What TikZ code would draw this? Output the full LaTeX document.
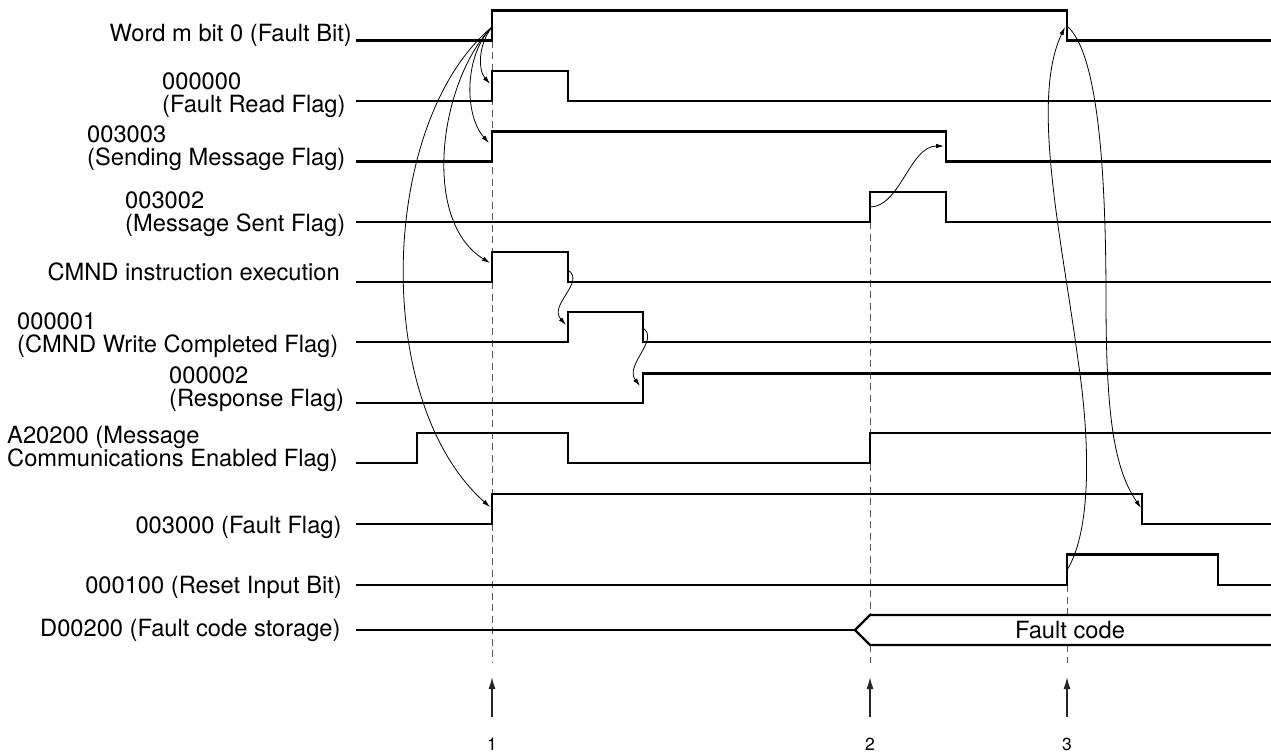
\documentclass[tikz,border=0pt]{standalone}
\usepackage{fontspec}
\setmainfont{TeX Gyre Heros}
\usetikzlibrary{arrows.meta}
\begin{document}
\begin{tikzpicture}[x=1pt,y=-1pt,
  sig/.style={line width=2.3pt, line join=miter, line cap=butt},
  cause/.style={line width=0.8pt, -{Latex[length=8pt,width=4.5pt]}},
  guide/.style={line width=0.9pt, black!65, dash pattern=on 7pt off 4.5pt},
  tickarrow/.style={line width=1.3pt, black!85, -{Latex[length=12pt,width=7pt]}},
  lbl/.style={inner sep=0pt, font=\fontsize{23.7}{23.3}\selectfont},
  num/.style={inner sep=0pt, font=\fontsize{17.5}{17.5}\selectfont}
]
\useasboundingbox (0,0) rectangle (1271,753);

% labels
\node[lbl, anchor=base east] (l1) at (352,41) {Word m bit 0 (Fault Bit)};
\node[lbl, anchor=base west, align=left] (l2) at (162,112.3) {000000\\(Fault Read Flag)};
\node[lbl, anchor=base west, align=left] (l3) at (87,165.5) {003003\\(Sending Message Flag)};
\node[lbl, anchor=base west, align=left] (l4) at (125,231.7) {003002\\(Message Sent Flag)};
\node[lbl, anchor=base east] (l5) at (340,280.7) {CMND instruction execution};
\node[lbl, anchor=base west, align=left] (l6) at (17,352.7) {000001\\(CMND Write Completed Flag)};
\node[lbl, anchor=base west, align=left] (l7) at (169,406.7) {000002\\(Response Flag)};
\node[lbl, anchor=base west, align=left] (l8) at (7,466.7) {A20200 (Message\\Communications Enabled Flag)};
\node[lbl, anchor=base east] (l9) at (341.7,533.3) {003000 (Fault Flag)};
\node[lbl, anchor=base east] (l10) at (342,593.3) {000100 (Reset Input Bit)};
\node[lbl, anchor=base east] (l11) at (340.7,636) {D00200 (Fault code storage)};

% guides
\draw[guide] (492,40.5) -- (492,663);
\draw[guide] (870,222) -- (870,615);
\draw[guide] (870,645) -- (870,663);
\draw[guide] (1067,585) -- (1067,615);
\draw[guide] (1067,645) -- (1067,663);

% waveforms
\draw[sig] (356,40.5) -- (492,40.5) -- (492,10.5) -- (1067,10.5) -- (1067,40.5) -- (1271,40.5);
\draw[sig] (356,100.7) -- (492,100.7) -- (492,70.7) -- (568,70.7) -- (568,100.7) -- (1271,100.7);
\draw[sig] (356,161.5) -- (492,161.5) -- (492,131.5) -- (946,131.5) -- (946,161.5) -- (1271,161.5);
\draw[sig] (356,221.7) -- (870,221.7) -- (870,191.7) -- (946,191.7) -- (946,221.7) -- (1271,221.7);
\draw[sig] (356,282) -- (492,282) -- (492,252) -- (568,252) -- (568,282) -- (1271,282);
\draw[sig] (356,342.3) -- (568,342.3) -- (568,312.3) -- (643,312.3) -- (643,342.3) -- (1271,342.3);
\draw[sig] (356,403) -- (643,403) -- (643,373.5) -- (1271,373.5);
\draw[sig] (356,463.3) -- (417,463.3) -- (417,433.3) -- (568,433.3) -- (568,463.3) -- (870,463.3) -- (870,433.3) -- (1271,433.3);
\draw[sig] (356,524) -- (492,524) -- (492,494) -- (1142,494) -- (1142,524) -- (1271,524);
\draw[sig] (356,584.7) -- (1067,584.7) -- (1067,554.5) -- (1218,554.5) -- (1218,584.7) -- (1271,584.7);
\draw[sig] (356,630) -- (855,630);
\draw[sig] (1271,615) -- (870,615) -- (855,630) -- (870,645) -- (1271,645);
\node[lbl, anchor=center] (fc) at (1070,630) {Fault code};

% causal connectors
\coordinate (wrise) at (492,27);
\coordinate (frrise) at (490,84);
\coordinate (smrise) at (489,143);
\coordinate (cmrise) at (490,263);
\coordinate (ffrise) at (490,507);
\coordinate (cmfall) at (568,270);
\coordinate (cwrise) at (566,325);
\coordinate (cwfall) at (643,328);
\coordinate (rfrise) at (640,386);
\coordinate (msrise) at (870,207);
\coordinate (smfall) at (944,146);
\coordinate (rsrise) at (1067,570);
\coordinate (wfall) at (1065,27);
\coordinate (wfallsrc) at (1067,26);
\coordinate (fffall) at (1141,508);

\draw[cause] (wrise) .. controls (478,45) and (478,70) .. (frrise);
\draw[cause] (wrise) .. controls (464,55) and (464,115) .. (smrise);
\draw[cause] (wrise) .. controls (440,80) and (420,220) .. (cmrise);
\draw[cause] (wrise) .. controls (380,120) and (370,400) .. (ffrise);
\draw[cause] (cmfall) .. controls (586,282) and (548,305) .. (cwrise);
\draw[cause] (cwfall) .. controls (660,340) and (624,365) .. (rfrise);
\draw[cause] (msrise) .. controls (900,207) and (910,146) .. (smfall);
\draw[cause] (rsrise) .. controls (1092,530) and (1090,440) .. (1078,360)
   .. controls (1062,240) and (1030,100) .. (wfall);
\draw[cause] (wfallsrc) .. controls (1095,50) and (1106,150) .. (1106,300)
   .. controls (1106,420) and (1115,470) .. (fffall);

% time markers
\node[num] (n1) at (492,744) {1};
\node[num] (n2) at (870,744) {2};
\node[num] (n3) at (1067,744) {3};
\coordinate (t1) at (492,717);
\coordinate (h1) at (492,677);
\coordinate (t2) at (870,717);
\coordinate (h2) at (870,677);
\coordinate (t3) at (1067,717);
\coordinate (h3) at (1067,677);
\draw[tickarrow] (t1) -- (h1);
\draw[tickarrow] (t2) -- (h2);
\draw[tickarrow] (t3) -- (h3);
\end{tikzpicture}
\end{document}
